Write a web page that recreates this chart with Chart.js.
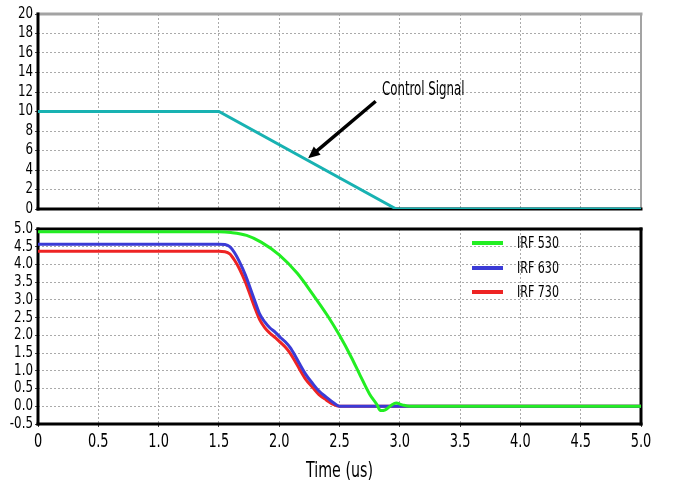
<!DOCTYPE html>
<html lang="en">
<head>
<meta charset="UTF-8">
<title>Control Signal and IRF gate response</title>
<script src="https://cdn.jsdelivr.net/npm/chart.js"></script>
<style>
  body { margin: 0; background: #fff; }
  #wrap { position: relative; width: 675px; height: 486px; font-family: "DejaVu Sans Condensed", "DejaVu Sans", sans-serif; color: #000; }
  #topChart { position: absolute; left: 0; top: 0; }
  #botChart { position: absolute; left: 0; top: 218px; }
  .narrow { display: inline-block; transform-origin: left center; white-space: nowrap; }
  #note { position: absolute; left: 382px; top: 79px; font-size: 19px; line-height: 19px; transform: scaleX(0.69); }
  #legend { position: absolute; left: 472px; top: 231px; font-size: 15px; }
  #legend div { height: 24.5px; display: flex; align-items: center; }
  #legend span.sw { display: inline-block; width: 31px; height: 4px; margin-right: 14px; }
  #legend span.narrow { transform: scaleX(0.82); }
</style>
</head>
<body>
<div id="wrap">
  <canvas id="topChart" width="675" height="220"></canvas>
  <canvas id="botChart" width="675" height="268"></canvas>
  <div id="note" class="narrow">Control Signal</div>
  <div id="legend"></div>
</div>

<script>
// ---- data ----
const ctrlTime = [0, 1.5, 2.97, 5];
const ctrlValue = [10, 10, 0, 0];

const irf530Time = [0, 1.5, 1.6, 1.73, 1.85, 2.0, 2.15, 2.28, 2.4, 2.5, 2.6, 2.67, 2.75, 2.81, 2.84, 2.88, 2.93, 2.97, 3.02, 3.08, 3.3, 5];
const irf530Value = [4.92, 4.92, 4.9, 4.82, 4.63, 4.27, 3.75, 3.15, 2.56, 2.0, 1.37, 0.88, 0.34, 0.05, -0.12, -0.1, 0.03, 0.09, 0.04, 0.0, 0.0, 0.0];

const irfTime = [0, 1.5, 1.55, 1.59, 1.63, 1.67, 1.72, 1.76, 1.8, 1.84, 1.88, 1.92, 1.97, 2.01, 2.05, 2.09, 2.13, 2.17, 2.22, 2.28, 2.33, 2.39, 2.45, 2.5, 5];
const irf630Value = [4.57, 4.57, 4.56, 4.5, 4.33, 4.08, 3.7, 3.33, 2.95, 2.59, 2.38, 2.22, 2.08, 1.94, 1.82, 1.66, 1.44, 1.19, 0.9, 0.63, 0.43, 0.26, 0.1, 0.0, 0.0];
const irf730Value = [4.37, 4.37, 4.36, 4.3, 4.12, 3.88, 3.5, 3.13, 2.76, 2.43, 2.22, 2.07, 1.93, 1.8, 1.67, 1.5, 1.28, 1.04, 0.76, 0.52, 0.33, 0.18, 0.05, 0.0, 0.0];

const seriesNames = ["IRF 530", "IRF 630", "IRF 730"];
const seriesColors = ["#22ee22", "#3b3bd6", "#ee2424"];
const ctrlColor = "#18b2b2";

const xTickValues = [0, 0.5, 1, 1.5, 2, 2.5, 3, 3.5, 4, 4.5, 5];
const xTickLabels = ["0", "0.5", "1.0", "1.5", "2.0", "2.5", "3.0", "3.5", "4.0", "4.5", "5.0"];
const topYTickValues = [0, 2, 4, 6, 8, 10, 12, 14, 16, 18, 20];
const topYTickLabels = ["0", "2", "4", "6", "8", "10", "12", "14", "16", "18", "20"];
const botYTickValues = [-0.5, 0, 0.5, 1, 1.5, 2, 2.5, 3, 3.5, 4, 4.5, 5];
const botYTickLabels = ["-0.5", "0.0", "0.5", "1.0", "1.5", "2.0", "2.5", "3.0", "3.5", "4.0", "4.5", "5.0"];

// arrow annotation (data units of top chart): tail -> tip
const arrowFrom = { x: 2.8, y: 11.05 };
const arrowTo = { x: 2.24, y: 5.2 };

function pts(t, v) { return t.map((x, i) => ({ x: x, y: v[i] })); }

const fontFamily = '"DejaVu Sans Condensed", "DejaVu Sans", sans-serif';

// the original uses a very narrow face: squeeze canvas text horizontally
const narrowPlugin = {
  id: 'narrow',
  beforeInit(chart) {
    const ctx = chart.ctx;
    const fill = ctx.fillText;
    ctx.fillText = function (text, x, y) {
      const m = /([\d.]+)px/.exec(this.font);
      const k = m && parseFloat(m[1]) >= 18 ? 0.72 : 0.88;
      this.save();
      this.translate(x, y);
      this.scale(k, 1);
      fill.call(this, text, 0, 0);
      this.restore();
    };
  }
};

// frame around plot area, one colour/width per side
const framePlugin = {
  id: 'frame',
  beforeDatasetsDraw(chart, args, opts) {
    const a = chart.chartArea, ctx = chart.ctx;
    ctx.save();
    ctx.lineCap = 'square';
    function side(x1, y1, x2, y2, s) {
      ctx.strokeStyle = s.color; ctx.lineWidth = s.width;
      ctx.beginPath(); ctx.moveTo(x1, y1); ctx.lineTo(x2, y2); ctx.stroke();
    }
    side(a.left, a.top, a.right, a.top, opts.top);
    side(a.right, a.top, a.right, a.bottom, opts.right);
    side(a.left, a.bottom, a.right, a.bottom, opts.bottom);
    side(a.left, a.top, a.left, a.bottom, opts.left);
    ctx.restore();
  }
};

const arrowPlugin = {
  id: 'arrow',
  afterDatasetsDraw(chart) {
    const xs = chart.scales.x, ys = chart.scales.y, ctx = chart.ctx;
    const x1 = xs.getPixelForValue(arrowFrom.x), y1 = ys.getPixelForValue(arrowFrom.y);
    const x2 = xs.getPixelForValue(arrowTo.x), y2 = ys.getPixelForValue(arrowTo.y);
    const ang = Math.atan2(y2 - y1, x2 - x1);
    ctx.save();
    ctx.strokeStyle = '#000'; ctx.fillStyle = '#000'; ctx.lineWidth = 3.5;
    ctx.beginPath();
    ctx.moveTo(x1, y1);
    ctx.lineTo(x2 - 8 * Math.cos(ang), y2 - 8 * Math.sin(ang));
    ctx.stroke();
    ctx.beginPath();
    ctx.moveTo(x2, y2);
    ctx.lineTo(x2 - 13 * Math.cos(ang - 0.42), y2 - 13 * Math.sin(ang - 0.42));
    ctx.lineTo(x2 - 13 * Math.cos(ang + 0.42), y2 - 13 * Math.sin(ang + 0.42));
    ctx.closePath();
    ctx.fill();
    ctx.restore();
  }
};

function xScale(showLabels, height) {
  return {
    type: 'linear', min: 0, max: 5,
    afterBuildTicks: s => { s.ticks = xTickValues.map(v => ({ value: v })); },
    afterFit: s => { s.height = height; },
    ticks: {
      display: showLabels, autoSkip: false, maxRotation: 0, padding: 3,
      color: '#000', font: { family: fontFamily, size: 20 },
      callback: (v, i) => xTickLabels[i]
    },
    grid: { color: '#aaa', lineWidth: 1, tickLength: showLabels ? 3 : 0, tickColor: '#444', tickBorderDash: [] },
    border: { display: false, dash: [2, 2] },
    title: showLabels ? { display: true, text: 'Time (us)', color: '#000', font: { family: fontFamily, size: 22 }, padding: { top: 0, bottom: 2 } } : { display: false }
  };
}

function yScale(min, max, vals, labels) {
  return {
    type: 'linear', min: min, max: max,
    afterBuildTicks: s => { s.ticks = vals.map(v => ({ value: v })); },
    afterFit: s => { s.width = 38; },
    ticks: { autoSkip: false, padding: 2, color: '#000', font: { family: fontFamily, size: 15 }, callback: (v, i) => labels[i] },
    grid: { color: '#aaa', lineWidth: 1, tickLength: 3, tickColor: '#444', tickBorderDash: [] },
    border: { display: false, dash: [2, 2] }
  };
}

const lineBase = { pointRadius: 0, borderWidth: 3, fill: false };

new Chart(document.getElementById('topChart'), {
  type: 'line',
  data: {
    datasets: [Object.assign({ label: 'Control Signal', data: pts(ctrlTime, ctrlValue), borderColor: ctrlColor, tension: 0 }, lineBase)]
  },
  options: {
    responsive: false, animation: false,
    layout: { padding: { top: 14, right: 34, left: 0, bottom: 0 } },
    plugins: {
      legend: { display: false }, tooltip: { enabled: false },
      frame: {
        top: { color: '#a3a3a3', width: 3 }, right: { color: '#a3a3a3', width: 2 },
        bottom: { color: '#000', width: 3 }, left: { color: '#000', width: 3 }
      }
    },
    scales: { x: xScale(false, 11), y: yScale(0, 20, topYTickValues, topYTickLabels) }
  },
  plugins: [narrowPlugin, framePlugin, arrowPlugin]
});

const botSets = [
  { t: irf530Time, v: irf530Value },
  { t: irfTime, v: irf630Value },
  { t: irfTime, v: irf730Value }
];

new Chart(document.getElementById('botChart'), {
  type: 'line',
  data: {
    datasets: botSets.map((s, i) => Object.assign({
      label: seriesNames[i], data: pts(s.t, s.v), borderColor: seriesColors[i],
      cubicInterpolationMode: 'monotone'
    }, lineBase))
  },
  options: {
    responsive: false, animation: false,
    layout: { padding: { top: 9, right: 34, left: 0, bottom: 0 } },
    plugins: {
      legend: { display: false }, tooltip: { enabled: false },
      frame: {
        top: { color: '#000', width: 3 }, right: { color: '#000', width: 3 },
        bottom: { color: '#000', width: 3 }, left: { color: '#000', width: 3 }
      }
    },
    scales: { x: xScale(true, 62), y: yScale(-0.5, 5, botYTickValues, botYTickLabels) }
  },
  plugins: [narrowPlugin, framePlugin]
});

// html legend inside the lower plot
const legendEl = document.getElementById('legend');
seriesNames.forEach((name, i) => {
  const row = document.createElement('div');
  row.innerHTML = '<span class="sw" style="background:' + seriesColors[i] + '"></span><span class="narrow">' + name + '</span>';
  legendEl.appendChild(row);
});
</script>
</body>
</html>
